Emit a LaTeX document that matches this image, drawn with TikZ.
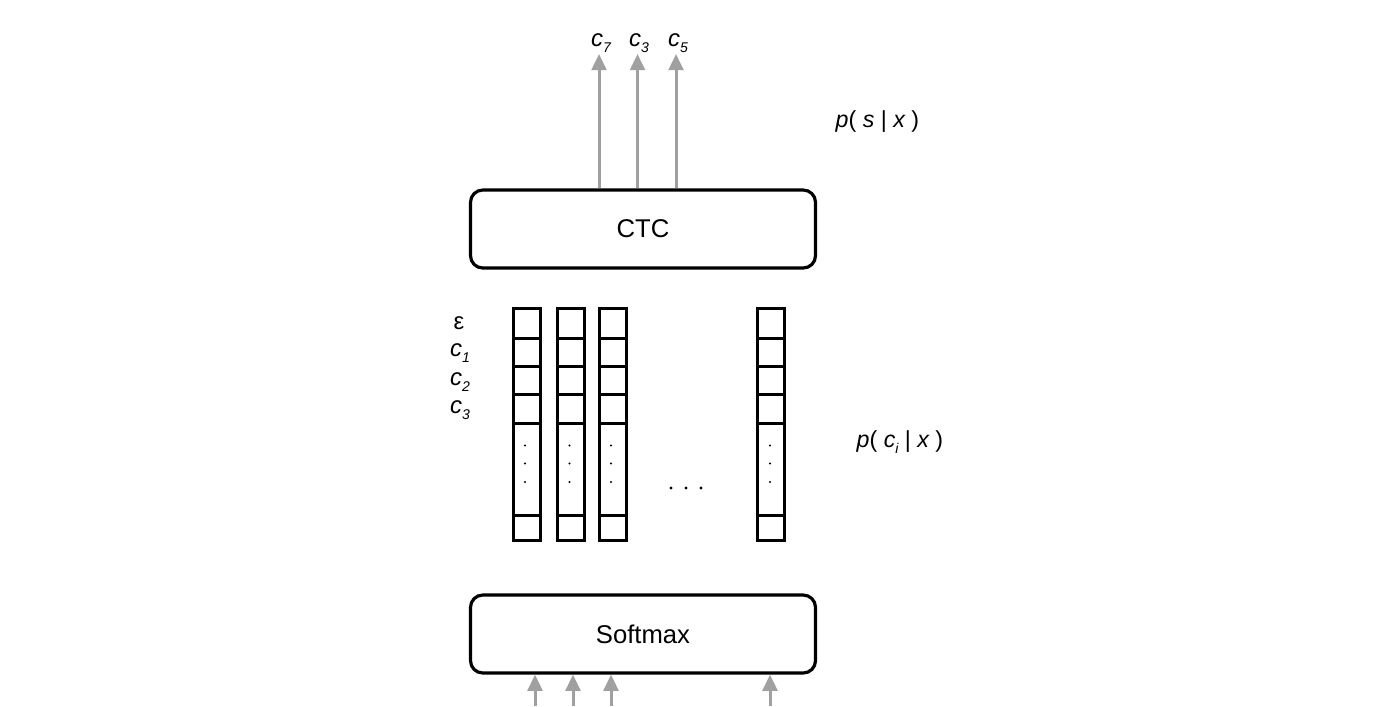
\documentclass[tikz,border=0pt]{standalone}
\usepackage{fontspec}
\setmainfont{Liberation Sans}
\usetikzlibrary{arrows.meta}
\definecolor{arrowgray}{RGB}{160,160,160}
\newcommand{\subidx}[1]{\raisebox{-0.5ex}{\fontsize{4}{5}\selectfont\itshape #1}}
\tikzset{
  layerbox/.style={draw=black, line width=0.9pt, rounded corners=3.5pt, minimum width=345*0.1mm, minimum height=78*0.1mm, inner sep=0pt, font=\fontsize{7.3}{9}\selectfont},
  colbox/.style={draw=black, line width=0.85pt, minimum width=26.5*0.1mm, minimum height=232*0.1mm, inner sep=0pt},
  garrow/.style={draw=arrowgray, line width=0.85pt, -{Triangle[length=4.6pt, width=4.2pt]}},
  lbl/.style={inner sep=0pt, font=\fontsize{6.8}{8}\selectfont},
  plbl/.style={inner sep=0pt, font=\fontsize{6.6}{8}\selectfont},
  sdot/.style={fill=black, draw=none},
}
\begin{document}
\begin{tikzpicture}[x=0.1mm, y=-0.1mm]
\useasboundingbox (0,0) rectangle (1400,706);

% layer boxes
\node[layerbox] (ctc) at (643,229) {CTC};
\node[layerbox] (soft) at (643,634) {Softmax};

% top output arrows
\coordinate (t1) at (599,54);
\coordinate (t2) at (637.5,54);
\coordinate (t3) at (676,54);
\draw[garrow] (ctc.north -| t1) -- (t1);
\draw[garrow] (ctc.north -| t2) -- (t2);
\draw[garrow] (ctc.north -| t3) -- (t3);
\node[lbl, anchor=base] (o1) at (601,46) {\itshape c\subidx{7}};
\node[lbl, anchor=base] (o2) at (639,46) {\itshape c\subidx{3}};
\node[lbl, anchor=base] (o3) at (678,46) {\itshape c\subidx{5}};

% bottom input arrows
\coordinate (b1) at (535,706);
\coordinate (b2) at (573,706);
\coordinate (b3) at (611,706);
\coordinate (b4) at (770,706);
\draw[garrow] (b1) -- (soft.south -| b1);
\draw[garrow] (b2) -- (soft.south -| b2);
\draw[garrow] (b3) -- (soft.south -| b3);
\draw[garrow] (b4) -- (soft.south -| b4);

% probability columns
\foreach \n/\cx/\dx in {1/526.75/525, 2/570.75/569.5, 3/612.75/611, 4/770.75/770}{
  \node[colbox] (col\n) at (\cx,424) {};
  \foreach \yy in {338,366,394.5,423,515.5}{
    \draw[line width=0.85pt] (col\n.west |- 0,\yy) -- (col\n.east |- 0,\yy);
  }
  \foreach \yy in {445.5,463.5,482}{
    \fill[sdot] (\dx,\yy) circle (1.1);
  }
}

% middle ellipsis
\foreach \xx in {671,686,701}{
  \fill[sdot] (\xx,488) circle (1.6);
}

% row labels
\node[lbl] (eps) at (459,323) {ε};
\node[lbl, anchor=base] (r1) at (460,356) {\itshape c\subidx{1}};
\node[lbl, anchor=base] (r2) at (460,385) {\itshape c\subidx{2}};
\node[lbl, anchor=base] (r3) at (460,413) {\itshape c\subidx{3}};

% probability labels
\node[plbl, anchor=base west] (psx) at (835,127) {\itshape p\upshape(\ \itshape s\upshape\ |\ \itshape x\upshape\ )};
\node[plbl, anchor=base west] (pcx) at (856,447) {\itshape p\upshape(\ \itshape c\subidx{i}\upshape\ |\ \itshape x\upshape\ )};
\end{tikzpicture}
\end{document}
